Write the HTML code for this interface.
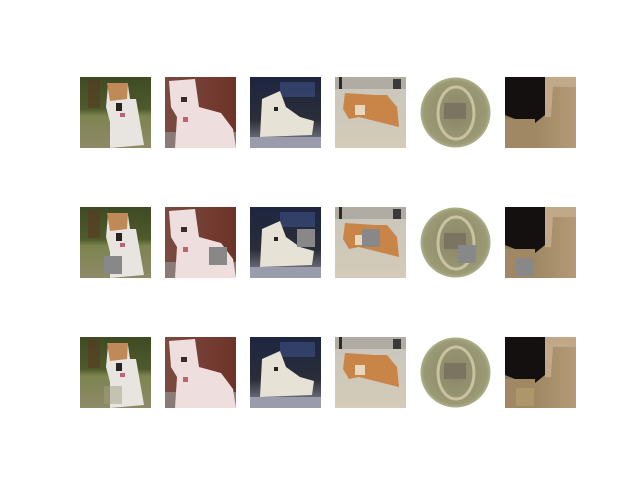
<!DOCTYPE html>
<html><head><meta charset="utf-8"><style>html,body{margin:0;padding:0;background:#fff;width:640px;height:480px;overflow:hidden}</style></head>
<body>
<svg width="640" height="480" viewBox="0 0 640 480" xmlns="http://www.w3.org/2000/svg">
<defs>
<linearGradient id="g1bg" x1="0" y1="0" x2="0" y2="1"><stop offset="0" stop-color="#3e4a22"/><stop offset="0.45" stop-color="#4f5a2c"/><stop offset="0.55" stop-color="#7d8450"/><stop offset="1" stop-color="#8e8a68"/></linearGradient>
<linearGradient id="g2bg" x1="0" y1="0" x2="1" y2="0"><stop offset="0" stop-color="#7a4a40"/><stop offset="1" stop-color="#6e3328"/></linearGradient>
<linearGradient id="g3bg" x1="0" y1="0" x2="0" y2="1"><stop offset="0" stop-color="#1d2540"/><stop offset="0.6" stop-color="#2a2e38"/><stop offset="1" stop-color="#8a8c98"/></linearGradient>
<linearGradient id="g4bg" x1="0" y1="0" x2="0" y2="1"><stop offset="0" stop-color="#c9c6bd"/><stop offset="1" stop-color="#d4cbb8"/></linearGradient>
<radialGradient id="g5bg"><stop offset="0" stop-color="#8a8468"/><stop offset="0.9" stop-color="#9a9a74"/><stop offset="1" stop-color="#b0b08e"/></radialGradient>
<linearGradient id="g6bg" x1="0" y1="0" x2="1" y2="0"><stop offset="0" stop-color="#8f7a58"/><stop offset="1" stop-color="#b59a76"/></linearGradient>
<symbol id="im1" viewBox="0 0 71 71"><rect width="71" height="71" fill="url(#g1bg)"/><rect x="8" y="3" width="12" height="28" fill="#5a3a22" opacity="0.6"/><path d="M28 8 L48 8 L50 22 L56 22 L64 68 L30 71 L30 45 L26 30 Z" fill="#e8e4e0"/><path d="M27 6 L48 6 L47 22 L30 24 Z" fill="#c08a58"/><rect x="36" y="26" width="6" height="8" fill="#2a2220"/><rect x="40" y="36" width="5" height="4" fill="#c06080"/></symbol>
<symbol id="im2" viewBox="0 0 71 71"><rect width="71" height="71" fill="url(#g2bg)"/><rect x="0" y="55" width="71" height="16" fill="#8a7a78"/><path d="M4 4 L30 2 L34 30 L56 36 L68 52 L71 71 L10 71 L12 40 L6 30 Z" fill="#efdede"/><rect x="16" y="20" width="6" height="5" fill="#3a2a2a"/><rect x="18" y="40" width="5" height="5" fill="#c06070"/></symbol>
<symbol id="im3" viewBox="0 0 71 71"><rect width="71" height="71" fill="url(#g3bg)"/><rect x="30" y="5" width="35" height="15" fill="#3a4a7a" opacity="0.7"/><path d="M12 22 L30 14 L36 30 L50 40 L64 44 L62 58 L10 60 Z" fill="#e6e2d6"/><rect x="24" y="30" width="4" height="4" fill="#2a2020"/><rect x="0" y="60" width="71" height="11" fill="#9a9cac"/></symbol>
<symbol id="im4" viewBox="0 0 71 71"><rect width="71" height="71" fill="url(#g4bg)"/><rect x="0" y="0" width="71" height="12" fill="#b0aca4"/><rect x="4" y="0" width="3" height="12" fill="#2a2a2a"/><rect x="58" y="2" width="8" height="10" fill="#3a3a3a"/><path d="M10 16 L40 18 L52 18 L62 30 L64 50 L40 44 L24 40 L14 42 L8 32 Z" fill="#c98448"/><rect x="20" y="28" width="10" height="10" fill="#e8d8c0"/></symbol>
<symbol id="im5" viewBox="0 0 71 71"><rect width="71" height="71" fill="#fff"/><circle cx="35.5" cy="35.5" r="35" fill="url(#g5bg)"/><ellipse cx="36" cy="36" rx="18" ry="26" fill="none" stroke="#c9c2a0" stroke-width="3"/><rect x="24" y="26" width="22" height="16" fill="#7a7460"/></symbol>
<symbol id="im6" viewBox="0 0 71 71"><rect width="71" height="71" fill="url(#g6bg)"/><path d="M0 0 L40 0 L40 38 L30 46 L10 42 L0 38 Z" fill="#141010"/><path d="M40 0 L71 0 L71 10 L48 10 L46 40 L40 40 Z" fill="#c0a888"/><rect x="0" y="42" width="30" height="29" fill="#a08864"/></symbol>
</defs>
<g>
<use href="#im1" x="80" y="77" width="71" height="71"/>
<use href="#im2" x="165" y="77" width="71" height="71"/>
<use href="#im3" x="250" y="77" width="71" height="71"/>
<use href="#im4" x="335" y="77" width="71" height="71"/>
<use href="#im5" x="420" y="77" width="71" height="71"/>
<use href="#im6" x="505" y="77" width="71" height="71"/>
</g>
<g>
<use href="#im1" x="80" y="207" width="71" height="71"/>
<use href="#im2" x="165" y="207" width="71" height="71"/>
<use href="#im3" x="250" y="207" width="71" height="71"/>
<use href="#im4" x="335" y="207" width="71" height="71"/>
<use href="#im5" x="420" y="207" width="71" height="71"/>
<use href="#im6" x="505" y="207" width="71" height="71"/>
<g fill="#888888">
<rect x="104" y="256" width="18" height="18"/>
<rect x="209" y="247" width="18" height="18"/>
<rect x="297" y="229" width="18" height="18"/>
<rect x="362" y="229" width="18" height="18"/>
<rect x="458" y="245" width="18" height="18"/>
<rect x="516" y="258" width="18" height="18"/>
</g>
</g>
<g>
<use href="#im1" x="80" y="337" width="71" height="71"/>
<use href="#im2" x="165" y="337" width="71" height="71"/>
<use href="#im3" x="250" y="337" width="71" height="71"/>
<use href="#im4" x="335" y="337" width="71" height="71"/>
<use href="#im5" x="420" y="337" width="71" height="71"/>
<use href="#im6" x="505" y="337" width="71" height="71"/>
<rect x="104" y="386" width="18" height="18" fill="#a0a080" opacity="0.5"/>
<rect x="516" y="388" width="18" height="18" fill="#b8a070" opacity="0.6"/>
</g>
</svg>
</body></html>
